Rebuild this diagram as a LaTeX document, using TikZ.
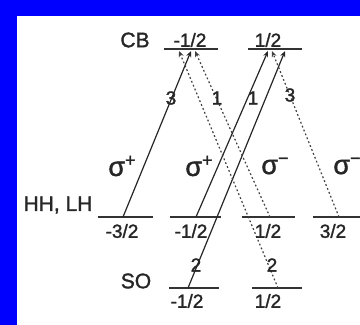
\documentclass[tikz,border=0pt]{standalone}
\usepackage{fontspec}
\setmainfont{Liberation Sans}
\newfontfamily\labfont{Liberation Sans}[FakeBold=1.5]
\usetikzlibrary{arrows.meta}
\newcommand\sigsup[1]{σ\raisebox{0.36em}{\fontsize{18}{18}\selectfont #1}}
\begin{document}
\begin{tikzpicture}[x=1pt,y=-1pt,
  level/.style={line width=1.9pt, draw=black!80},
  lbl/.style={font=\labfont\fontsize{19}{19}\selectfont, inner sep=0pt, text=black!85},
  big/.style={font=\labfont\fontsize{21}{21}\selectfont, inner sep=0pt, text=black!85},
  sig/.style={font=\labfont\fontsize{27}{27}\selectfont, inner sep=0pt, text=black!85},
  trans/.style={line width=1.2pt, draw=black!85, -{Stealth[length=6pt,width=5pt]}},
  dottrans/.style={trans, draw=black!75, dash pattern=on 1.8pt off 2.4pt}]
\fill[blue] (0,0) rectangle (360,325);
\fill[white] (17,16) rectangle (360,325);
\useasboundingbox (0,0) rectangle (360,325);
\begin{scope}
\clip (17,16) rectangle (360,325);
% levels
\draw[level] (164,49) -- (218,49);
\draw[level] (248,49) -- (302,49);
\draw[level] (98,217) -- (153,217);
\draw[level] (170,217) -- (221,217);
\draw[level] (242,217) -- (295,217);
\draw[level] (313,217) -- (368,217);
\draw[level] (169,288) -- (219,288);
\draw[level] (252,288) -- (302,288);
% coordinates
\coordinate (hA) at (123,217);
\coordinate (hB) at (196,217);
\coordinate (hC) at (270,217);
\coordinate (hD) at (339,217);
\coordinate (sA) at (188,288);
\coordinate (sB) at (278,288);
\coordinate (cA1) at (191,51);
\coordinate (cA2) at (195,51);
\coordinate (cA3) at (179,51);
\coordinate (cB1) at (268,51);
\coordinate (cB2) at (272,51);
\coordinate (cB3) at (285,51);
% transitions
\draw[trans] (hA) -- (cA1);
\draw[trans] (hB) -- (cB1);
\draw[trans] (sA) -- (cB3);
\draw[dottrans] (hC) -- (cA2);
\draw[dottrans] (hD) -- (cB2);
\draw[dottrans] (sB) -- (cA3);
% labels
\node[big] (cb) at (135,40) {CB};
\node[lbl] (cbm) at (190,40) {-1/2};
\node[lbl] (cbp) at (268,40) {1/2};
\node[big] (hh) at (58,205) {HH, LH};
\node[lbl] (h1) at (122,231) {-3/2};
\node[lbl] (h2) at (191,231) {-1/2};
\node[lbl] (h3) at (268,231) {1/2};
\node[lbl] (h4) at (333,231) {3/2};
\node[big] (so) at (136,281) {SO};
\node[lbl] (s1) at (187,301) {-1/2};
\node[lbl] (s2) at (268,301) {1/2};
\node[lbl] (n1) at (171,98) {3};
\node[lbl] (n2) at (217,98) {1};
\node[lbl] (n3) at (253,98) {1};
\node[lbl] (n4) at (290,95) {3};
\node[lbl] (n5) at (196,265) {2};
\node[lbl] (n6) at (272,265) {2};
\node[sig] (g1) at (122,166) {\sigsup{+}};
\node[sig] (g2) at (199,166) {\sigsup{+}};
\node[sig] (g3) at (275,166) {\sigsup{−}};
\node[sig] (g4) at (347,166) {\sigsup{−}};
\end{scope}
\end{tikzpicture}
\end{document}
